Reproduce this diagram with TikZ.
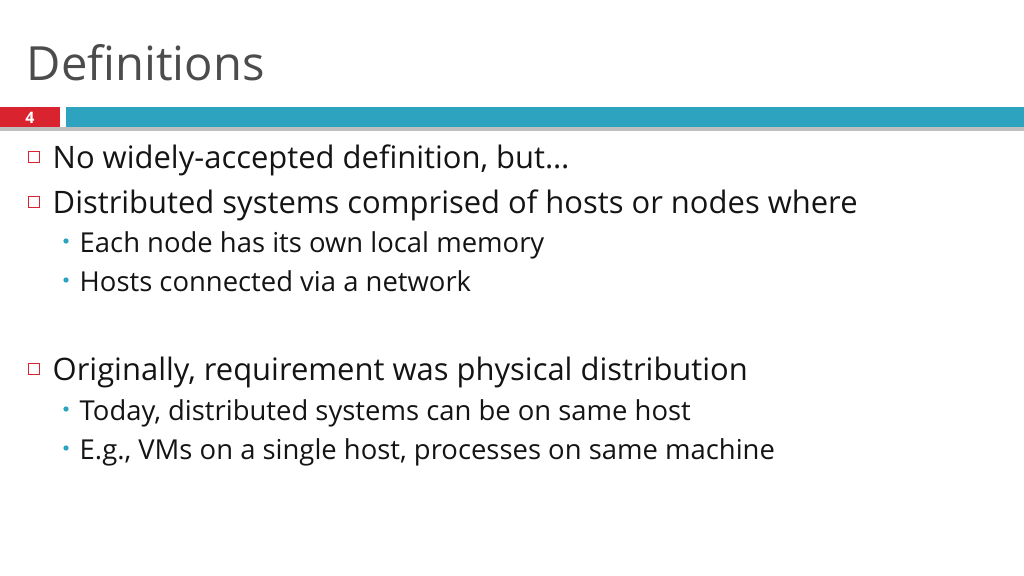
\documentclass[tikz,border=0pt]{standalone}
\usepackage{fontspec}
\setmainfont{Open Sans}
\definecolor{barblue}{HTML}{2EA3BF}
\definecolor{barred}{HTML}{D9232E}
\begin{document}
\begin{tikzpicture}[x=0.01cm,y=-0.01cm]
\tikzset{
title/.style={anchor=base west,inner sep=0,text=black!70,font={\fontsize{13.4pt}{15}\selectfont}},
item/.style={anchor=base west,inner sep=0,text=black!92,font={\fontsize{8.8pt}{10}\selectfont}},
subitem/.style={anchor=base west,inner sep=0,text=black!92,font={\fontsize{7.8pt}{9}\selectfont}},
box/.style={draw=barred,line width=0.3pt,minimum size=3.3pt,inner sep=0},
dot/.style={circle,fill=barblue,minimum size=1.5pt,inner sep=0}
}
\useasboundingbox (0,0) rectangle (1024,575);
% header bars
\fill[black!25] (0,127) rectangle (1024,131);
\fill[barred] (0,107) rectangle (60,127);
\fill[barblue] (66,107) rectangle (1024,127);
\node[text=white,font={\fontsize{4.5pt}{5}\bfseries\selectfont}] (num) at (30,118) {4};
\node[title] (head) at (26,80) {Definitions};
% bullets
\foreach \y/\t in {168/{No widely-accepted definition, but\dots},
 213/{Distributed systems comprised of hosts or nodes where},
 380/{Originally, requirement was physical distribution}}{
 \node[box] at (34,\y-11) {};
 \node[item] at (52,\y) {\t};
}
\foreach \y/\t in {252/{Each node has its own local memory},
 291/{Hosts connected via a network},
 420/{Today, distributed systems can be on same host},
 459/{E.g., VMs on a single host, processes on same machine}}{
 \node[dot] at (66,\y-11) {};
 \node[subitem] at (79,\y) {\t};
}
\end{tikzpicture}
\end{document}
